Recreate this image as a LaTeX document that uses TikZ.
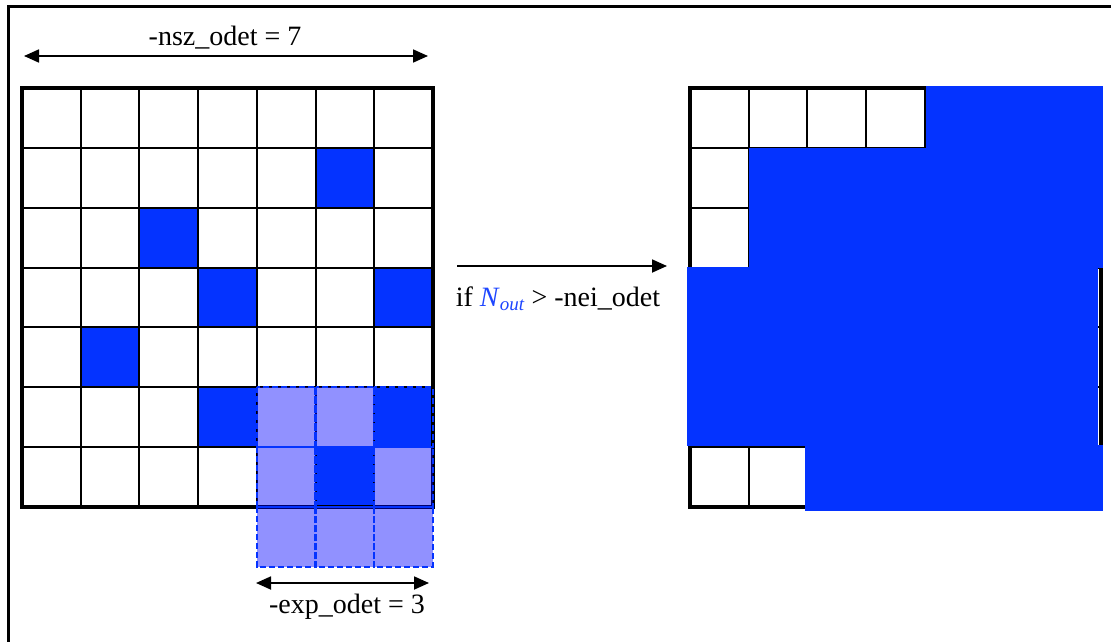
\documentclass[tikz,border=0pt]{standalone}
\usepackage{fontspec}
\setmainfont{Liberation Serif}
\usetikzlibrary{arrows.meta}
\definecolor{cblue}{RGB}{4,51,255}
\definecolor{tblue}{RGB}{30,70,255}
\begin{document}
\begin{tikzpicture}[x=1pt,y=-1pt,
  frameline/.style={line width=3pt},
  gridline/.style={line width=2pt},
  outerline/.style={line width=4pt},
  solidcell/.style={fill=cblue},
  lightcell/.style={fill=blue,fill opacity=0.43},
  dashcell/.style={draw=cblue,line width=2.2pt,dash pattern=on 6pt off 3pt},
  dimarrow/.style={line width=1.8pt,{Triangle[length=15pt,width=13pt]}-{Triangle[length=15pt,width=13pt]}},
  onearrow/.style={line width=1.8pt,-{Triangle[length=15pt,width=13pt]}},
  lab/.style={font=\fontsize{28}{32}\selectfont,inner sep=0pt,anchor=base}]
\useasboundingbox (0,0) rectangle (1111,642);
\fill[white] (0,0) rectangle (1111,642);
\def\cw{58.714}
\def\ch{59.857}
% outer frame (only left and top edges inside the page)
\draw[frameline] (8,660) -- (8,7) -- (1130,7);

% ---------- left grid ----------
\foreach \c/\r in {5/1,2/2,3/3,6/3,1/4,3/5,6/5,5/6}
  \fill[solidcell] ({22+\c*\cw},{88+\r*\ch}) rectangle ++(\cw,\ch);
\foreach \i in {1,...,6} {
  \draw[gridline] ({22+\i*\cw},88) -- ({22+\i*\cw},507);
  \draw[gridline] (22,{88+\i*\ch}) -- (433,{88+\i*\ch});
}
\draw[outerline] (22,88) rectangle (433,507);
% expansion window
\foreach \c/\r in {4/5,5/5,4/6,6/6,4/7,5/7,6/7}
  \fill[lightcell] ({22+\c*\cw},{88+\r*\ch}) rectangle ++(\cw,\ch);
\foreach \c in {4,5,6}
  \foreach \r in {5,6,7}
    \draw[dashcell] ({22+\c*\cw},{88+\r*\ch}) rectangle ++(\cw,\ch);

% ---------- right grid ----------
\foreach \i in {1,...,6} {
  \draw[gridline] ({690+\i*\cw},88) -- ({690+\i*\cw},507);
  \draw[gridline] (690,{88+\i*\ch}) -- (1101,{88+\i*\ch});
}
\draw[outerline] (690,88) rectangle (1101,507);
\fill[cblue] (926,86) rectangle (1103,149);
\fill[cblue] (749,148) rectangle (1103,268);
\fill[cblue] (687,267) rectangle (1098,446);
\fill[cblue] (805,445) rectangle (1103,511);

% ---------- labels and arrows ----------
\coordinate (nszL) at (24,56);
\coordinate (nszR) at (428,56);
\draw[dimarrow] (nszL) -- (nszR);
\node[lab] (nsz) at (225,46) {-nsz\_odet = 7};

\coordinate (ifL) at (457,266);
\coordinate (ifR) at (667,266);
\draw[onearrow] (ifL) -- (ifR);
\node[lab] (cond) at (558,306) {if \textcolor{tblue}{\textit{N}\raisebox{-0.35ex}{\fontsize{19}{20}\selectfont\textit{out}}} > -nei\_odet};

\coordinate (expL) at (256,583);
\coordinate (expR) at (429,583);
\draw[dimarrow] (expL) -- (expR);
\node[lab] (exp) at (347,613) {-exp\_odet = 3};
\end{tikzpicture}
\end{document}
